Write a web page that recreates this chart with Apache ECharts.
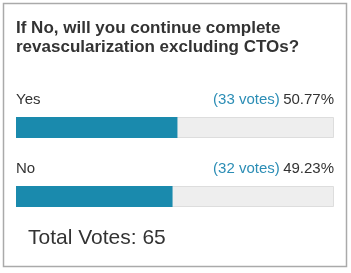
<!DOCTYPE html>
<html><head><meta charset="utf-8">
<script src="https://cdn.jsdelivr.net/npm/echarts@6/dist/echarts.min.js"></script>
<style>html,body{margin:0;padding:0;background:#fff}#c{width:351px;height:273px}</style>
</head><body><div id="c"></div>
<script>
const titleLines = ['If No, will you continue complete', 'revascularization excluding CTOs?'];
const categories = ['Yes', 'No'];
const votes = [33, 32];
const percents = [50.77, 49.23];

const total = votes.reduce((a, b) => a + b, 0);
const chart = echarts.init(document.getElementById('c'), null, {renderer: 'canvas'});
const FONT = '"Liberation Sans", Arial, sans-serif';
chart.setOption({
  animation: false,
  title: {
    text: titleLines.join('\n'),
    left: 16, top: 19, padding: 0,
    textStyle: {fontFamily: FONT, fontSize: 17, fontWeight: 'bold', color: '#333', lineHeight: 19}
  },
  grid: {left: 16, right: 17, top: 93, bottom: 42},
  xAxis: {type: 'value', min: 0, max: 100, show: false},
  yAxis: {type: 'category', data: categories, inverse: true, show: false},
  series: [
    {
      type: 'bar', barWidth: 21, silent: true,
      data: categories.map(() => 100),
      itemStyle: {color: '#eeeeee', borderColor: '#dddddd', borderWidth: 1},
      label: {
        show: true, position: ['100%', -17], align: 'right', verticalAlign: 'middle',
        formatter: p => '{v|(' + votes[p.dataIndex] + ' votes)} {p|' + percents[p.dataIndex].toFixed(2) + '%}',
        rich: {
          v: {fontFamily: FONT, fontSize: 15, color: '#2b8db5'},
          p: {fontFamily: FONT, fontSize: 15, color: '#333'}
        }
      },
      z: 1
    },
    {
      type: 'bar', barWidth: 21, barGap: '-100%', silent: true,
      data: percents,
      itemStyle: {color: '#1a8aad'},
      label: {
        show: true, position: [0, -17], align: 'left', verticalAlign: 'middle',
        formatter: p => categories[p.dataIndex],
        fontFamily: FONT, fontSize: 15, color: '#333'
      },
      z: 2
    }
  ],
  graphic: [
    {type: 'rect', shape: {x: 3.5, y: 3.5, width: 343, height: 263}, style: {fill: null, stroke: '#aaaaaa', lineWidth: 1.5}, silent: true},
    {type: 'text', x: 28, y: 238, style: {text: 'Total Votes: ' + total, fontFamily: FONT, fontSize: 21, fill: '#333', verticalAlign: 'middle'}}
  ]
});
</script></body></html>
